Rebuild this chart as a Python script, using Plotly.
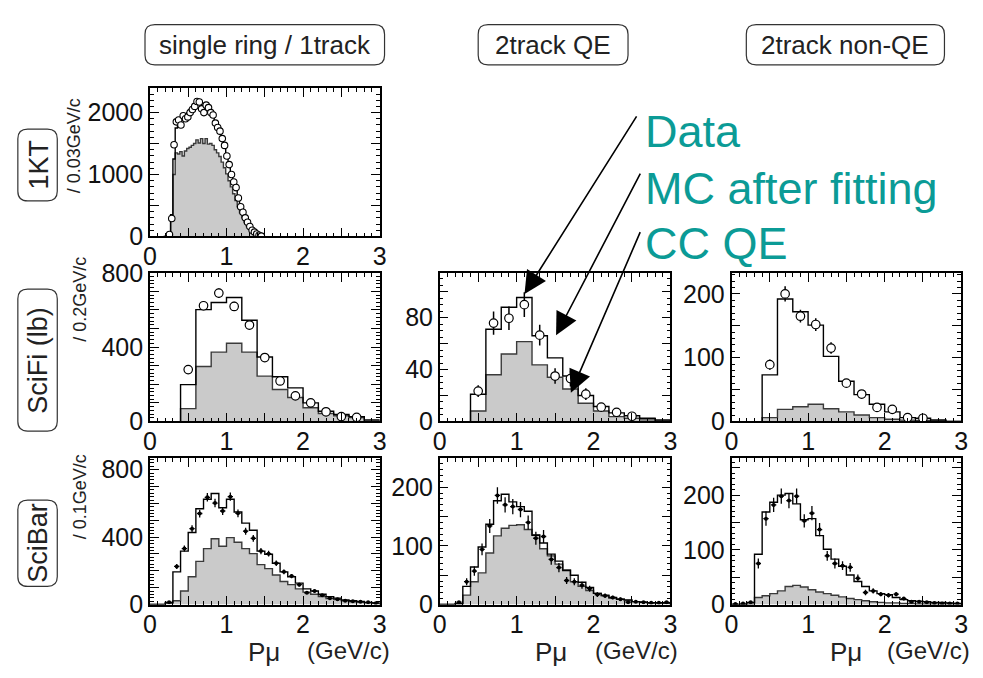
import numpy as np
import plotly.graph_objects as go

W, H = 983, 678
FONT = "Liberation Sans, Arial, Helvetica, sans-serif"
TEAL = "#0b9b96"

# ---------------- data ----------------
# 1KT, single ring (bin width 0.03 GeV/c)
kt_lo, kt_w = 0.18, 0.03
kt_mc = [0, 5, 30, 350, 1250, 1750, 1850, 1880, 1920, 1960, 2000, 2050, 2080, 2120, 2150,
         2140, 2120, 2110, 2080, 2050, 2010, 1950, 1870, 1780, 1680, 1560, 1430, 1300, 1160,
         1020, 880, 740, 610, 490, 380, 290, 210, 145, 95, 55, 30, 12, 5, 0]
kt_qe = [0, 3, 20, 250, 1000, 1350, 1330, 1370, 1300, 1380, 1420, 1440, 1470, 1500, 1560,
         1510, 1580, 1500, 1580, 1490, 1500, 1470, 1400, 1350, 1290, 1200, 1110, 1010, 900,
         800, 690, 580, 480, 380, 300, 225, 160, 110, 70, 40, 20, 8, 3, 0]
kt_data_x = [0.255, 0.285, 0.315, 0.345, 0.375, 0.405, 0.435, 0.465, 0.495, 0.525, 0.555,
             0.585, 0.615, 0.645, 0.675, 0.705, 0.735, 0.765, 0.795, 0.825, 0.855, 0.885,
             0.915, 0.945, 0.975, 1.005, 1.035, 1.065, 1.095, 1.125, 1.155, 1.185, 1.215,
             1.245, 1.275, 1.305, 1.335, 1.365, 1.395, 1.425, 1.455]
kt_data = [30, 290, 1480, 1850, 1880, 1800, 1950, 1900, 1930, 2000, 2050, 2100, 2180, 2170,
           2060, 2000, 2120, 2080, 2000, 1960, 1830, 1760, 1700, 1580, 1470, 1300, 1160, 1000,
           880, 790, 620, 480, 390, 300, 230, 160, 100, 70, 40, 20, 5]

# SciFi (bin width 0.2 GeV/c, starting at 0.4)
sf_lo, sf_w = 0.4, 0.2
sf_data_x = [0.5, 0.7, 0.9, 1.1, 1.3, 1.5, 1.7, 1.9, 2.1, 2.3, 2.5, 2.7]
sf1_mc = [198, 602, 640, 667, 545, 347, 241, 181, 100, 55, 38, 26, 8]
sf1_qe = [69, 296, 373, 421, 373, 244, 172, 129, 74, 43, 31, 21, 0]
sf1_data = [279, 623, 691, 619, 519, 344, 218, 138, 100, 52, 26, 22]
sf1_err = [17, 25, 26, 25, 23, 19, 15, 12, 10, 7, 5, 5]

sf2_mc = [21, 71, 88, 95.5, 66, 49, 35, 20, 11.5, 6.6, 4.4, 2.5, 1.2]
sf2_qe = [8, 36, 52, 61.5, 43.6, 34, 25, 14, 8, 3.7, 2.5, 1.2, 0.5]
sf2_data = [23.4, 75.8, 79.5, 90, 66.5, 35, 33, 21, 11, 7, 4]
sf2_err = [4.5, 9, 9, 9.5, 8, 6, 6, 4.5, 3, 2.5, 2]

sf3_mc = [73, 192, 172, 151, 102, 63, 42, 27, 15, 6, 5, 2.5, 0]
sf3_qe = [6, 19, 23, 27, 20, 15, 10, 6, 3.5, 2, 1.5, 1, 0]
sf3_data = [89, 200, 165, 152, 115, 60, 43, 22, 19, 6, 5]
sf3_err = [8, 12, 10, 10, 9, 6, 5, 4, 3, 2, 2]

# SciBar (bin width 0.1 GeV/c, starting at 0.0)
sb_lo, sb_w = 0.0, 0.1
sb1_mc = [0, 0, 13, 194, 317, 427, 568, 625, 659, 574, 625, 549, 483, 441, 317, 298, 245,
          194, 165, 127, 93, 80, 61, 47, 38, 28, 23, 19, 13, 10]
sb1_qe = [0, 0, 8, 23, 80, 165, 256, 332, 390, 346, 397, 370, 332, 302, 237, 213, 175, 137,
          118, 93, 74, 61, 47, 36, 30, 23, 17, 13, 10, 8]
sb1_data_x = [0.25, 0.35, 0.45, 0.55, 0.65, 0.75, 0.85, 0.95, 1.05, 1.15, 1.25, 1.35, 1.45,
              1.55, 1.65, 1.75, 1.85, 1.95, 2.05, 2.15, 2.25, 2.35, 2.45, 2.55, 2.65, 2.75,
              2.85, 2.95]
sb1_data = [13, 226, 332, 450, 540, 636, 602, 555, 640, 541, 435, 393, 317, 302, 245, 194,
            169, 118, 70, 80, 55, 38, 32, 23, 19, 17, 13, 8]
sb1_err = [4, 15, 18, 21, 23, 25, 25, 24, 25, 23, 21, 20, 18, 17, 16, 14, 13, 11, 8, 9, 7,
           6, 6, 5, 4, 4, 4, 3]

sb2_mc = [0, 0, 2, 31, 64, 98, 137, 177, 188, 175, 167, 159, 118, 105, 86, 74, 58, 50, 38,
          29, 19, 16, 12, 9, 8, 5, 4, 3, 3, 3]
sb2_qe = [0, 0, 1, 16, 39, 54, 88, 117, 130, 135, 136, 128, 119, 95, 83, 69, 59, 39, 31, 24,
          19, 15, 11, 9, 7, 5, 4, 3, 3, 2]
sb2_data = [4, 39, 57, 94, 134, 186, 170, 167, 162, 140, 113, 116, 77, 63, 41, 39, 33, 27,
            17, 15, 12, 9, 4, 5, 4, 3, 3, 4]
sb2_err = [2, 6, 8, 10, 12, 14, 13, 13, 13, 12, 11, 11, 9, 8, 6, 6, 6, 5, 4, 4, 3, 3, 2, 2,
           2, 2, 2, 2]

sb3_mc = [0, 0, 4, 92, 169, 187, 200, 203, 184, 155, 157, 126, 101, 83, 70, 54, 42, 33, 25,
          20, 18, 13, 9, 7, 6, 5, 4, 4, 3, 2]
sb3_qe = [0, 0, 1, 13, 16, 20, 25, 33, 35, 32, 27, 23, 20, 17, 14, 11, 9, 7, 5, 4, 3, 3, 2,
          2, 1, 1, 1, 1, 1, 1]
sb3_data_x = [0.05, 0.15, 0.25, 0.35, 0.45, 0.55, 0.65, 0.75, 0.85, 0.95, 1.05, 1.15, 1.25,
              1.35, 1.45, 1.55, 1.65, 1.75, 1.85, 1.95, 2.05, 2.15, 2.25, 2.35, 2.45, 2.55,
              2.65, 2.75, 2.85, 2.95]
sb3_data = [1, 2, 4, 75, 157, 182, 198, 190, 198, 153, 167, 137, 89, 75, 71, 68, 48, 22, 25,
            19, 17, 19, 11, 5, 5, 4, 3, 2, 2, 2]
sb3_err = [1, 1, 2, 9, 13, 13, 14, 14, 14, 12, 13, 12, 9, 9, 8, 8, 7, 5, 5, 4, 4, 4, 3, 2, 2,
           2, 2, 1, 1, 1]

col_titles = ["single ring / 1track", "2track QE", "2track non-QE"]
row_titles = ["1KT", "SciFi (lb)", "SciBar"]
y_units = ["/ 0.03GeV/c", "/ 0.2GeV/c", "/ 0.1GeV/c"]
legend_texts = ["Data", "MC after fitting", "CC QE"]

# ---------------- layout helpers ----------------
def fx(x):
    return x / W


def fy(y):
    return 1 - y / H


COLX = [(145, 378), (439, 673), (735, 968)]
ROWY = [(77, 232), (270, 425), (463, 616)]
TICKFONT = 25

# panel: (col, row, lo, w, mc, qe, data_x, data, err, style, ymax, ylabels, ymajor, yminor)
panels = [
    (0, 0, kt_lo, kt_w, kt_mc, kt_qe, kt_data_x, kt_data, None, "open_small", 2400,
     [0, 1000, 2000], 500, 100),
    (0, 1, sf_lo, sf_w, sf1_mc, sf1_qe, sf_data_x, sf1_data, sf1_err, "open", 800,
     [0, 400, 800], 100, 20),
    (1, 1, sf_lo, sf_w, sf2_mc, sf2_qe, sf_data_x[:11], sf2_data, sf2_err, "open", 114.5,
     [0, 40, 80], 20, 5),
    (2, 1, sf_lo, sf_w, sf3_mc, sf3_qe, sf_data_x[:11], sf3_data, sf3_err, "open", 233,
     [0, 100, 200], 50, 10),
    (0, 2, sb_lo, sb_w, sb1_mc, sb1_qe, sb1_data_x, sb1_data, sb1_err, "dot", 870,
     [0, 400, 800], 100, 20),
    (1, 2, sb_lo, sb_w, sb2_mc, sb2_qe, sb1_data_x, sb2_data, sb2_err, "dot", 250,
     [0, 100, 200], 50, 10),
    (2, 2, sb_lo, sb_w, sb3_mc, sb3_qe, sb3_data_x, sb3_data, sb3_err, "dot", 268,
     [0, 100, 200], 50, 10),
]


def step_xy(lo, w, vals):
    n = len(vals)
    edges = lo + w * np.arange(n + 1)
    xs = [edges[0]] + list(edges[:-1]) + [edges[-1], edges[-1]]
    ys = [0] + list(vals) + [vals[-1], 0]
    return xs, ys


fig = go.Figure()
layout = dict(width=W, height=H, margin=dict(l=0, r=0, t=0, b=0), autosize=False,
              paper_bgcolor="white", plot_bgcolor="white", showlegend=False,
              font=dict(family=FONT, color="black"))

for i, (c, r, lo, w, mc, qe, dx, dv, de, style, ymax, ylab, ymaj, ymin) in enumerate(panels, 1):
    xa = f"x{i}" if i > 1 else "x"
    ya = f"y{i}" if i > 1 else "y"
    sx, sy = step_xy(lo, w, qe)
    fig.add_trace(go.Scatter(x=sx, y=sy, mode="lines", line=dict(shape="hv", color="#3a3a3a", width=1.4),
                             fill="tozeroy", fillcolor="#cacaca", xaxis=xa, yaxis=ya, hoverinfo="skip"))
    sx, sy = step_xy(lo, w, mc)
    fig.add_trace(go.Scatter(x=sx, y=sy, mode="lines", line=dict(shape="hv", color="black", width=1.4),
                             xaxis=xa, yaxis=ya, hoverinfo="skip"))
    if style == "open_small":
        fig.add_trace(go.Scatter(x=dx, y=dv, mode="markers",
                                 marker=dict(symbol="circle", size=6.5, color="white",
                                             line=dict(color="black", width=1.1)),
                                 xaxis=xa, yaxis=ya))
    elif style == "open":
        fig.add_trace(go.Scatter(x=dx, y=dv, mode="markers",
                                 marker=dict(symbol="circle", size=8.5, color="white",
                                             line=dict(color="black", width=1.2)),
                                 error_y=dict(type="data", array=de, color="black", thickness=1.5, width=0),
                                 xaxis=xa, yaxis=ya))
    else:
        fig.add_trace(go.Scatter(x=dx, y=dv, mode="markers",
                                 marker=dict(symbol="circle", size=4, color="black"),
                                 error_y=dict(type="data", array=de, color="black", thickness=1.3, width=0),
                                 error_x=dict(type="constant", value=0.035, color="black", thickness=1.3, width=0),
                                 xaxis=xa, yaxis=ya))

    x0, x1 = COLX[c]
    y0, y1 = ROWY[r]
    yt = list(np.arange(0, ymax + 1e-9, ymaj))
    ytext = [(f"{int(v)}" if any(abs(v - l) < 1e-9 for l in ylab) else "") for v in yt]
    layout["xaxis" + (str(i) if i > 1 else "")] = dict(
        domain=[fx(x0), fx(x1)], anchor=ya, range=[0, 3], showgrid=False, zeroline=False,
        showline=True, linecolor="black", linewidth=1.5, mirror="allticks",
        ticks="inside", ticklen=9, tickwidth=1, tickcolor="black",
        tickvals=[0, 0.5, 1, 1.5, 2, 2.5, 3], ticktext=["0", "", "1", "", "2", "", "3"],
        ticklabelstandoff=-3,
        minor=dict(ticks="inside", ticklen=4, dtick=0.1, tick0=0, tickcolor="black"),
        tickfont=dict(size=TICKFONT, family=FONT, color="#111"), fixedrange=True)
    layout["yaxis" + (str(i) if i > 1 else "")] = dict(
        domain=[fy(y1), fy(y0)], anchor=xa, range=[0, ymax], showgrid=False, zeroline=False,
        showline=True, linecolor="black", linewidth=1.5, mirror="allticks",
        ticks="inside", ticklen=9, tickwidth=1, tickcolor="black",
        tickvals=yt, ticktext=ytext,
        minor=dict(ticks="inside", ticklen=4, dtick=ymin, tick0=0, tickcolor="black"),
        tickfont=dict(size=TICKFONT, family=FONT, color="#111"), fixedrange=True)

fig.update_layout(**layout)


def rounded_box(xa, ya, xb, yb, rad=9):
    def P(x, y):
        return f"{fx(x):.5f},{fy(y):.5f}"
    return ("M " + P(xa + rad, ya) + " L " + P(xb - rad, ya) + " Q " + P(xb, ya) + " " + P(xb, ya + rad)
            + " L " + P(xb, yb - rad) + " Q " + P(xb, yb) + " " + P(xb - rad, yb)
            + " L " + P(xa + rad, yb) + " Q " + P(xa, yb) + " " + P(xa, yb - rad)
            + " L " + P(xa, ya + rad) + " Q " + P(xa, ya) + " " + P(xa + rad, ya) + " Z")


shapes = []
annotations = []

# column headers
head_boxes = [(140, 383), (478, 630), (750, 951)]
for (a, b), t in zip(head_boxes, col_titles):
    shapes.append(dict(type="path", xref="paper", yref="paper", path=rounded_box(a, 11, b, 53, 10),
                       line=dict(color="#333", width=1.2)))
    annotations.append(dict(xref="paper", yref="paper", x=fx((a + b) / 2), y=fy(32), text=t,
                            showarrow=False, xanchor="center", yanchor="middle",
                            font=dict(size=26, family=FONT, color="#222")))

# row titles
row_boxes = [(120, 195), (287, 435), (507, 597)]
for (a, b), t in zip(row_boxes, row_titles):
    shapes.append(dict(type="path", xref="paper", yref="paper", path=rounded_box(11, a, 51, b, 10),
                       line=dict(color="#333", width=1.2)))
    annotations.append(dict(xref="paper", yref="paper", x=fx(32), y=fy((a + b) / 2), text=t,
                            showarrow=False, textangle=-90, xanchor="center", yanchor="middle",
                            font=dict(size=27, family=FONT, color="#222")))

# y-unit labels
unit_pos = [(68, 138), (74, 297), (74, 503)]
for (x, y), t in zip(unit_pos, y_units):
    annotations.append(dict(xref="paper", yref="paper", x=fx(x), y=fy(y), text=t,
                            showarrow=False, textangle=-90, xanchor="center", yanchor="middle",
                            font=dict(size=18, family=FONT, color="#222")))

# x-axis labels
for pm, gv in [(261, 346), (552, 639), (851, 935)]:
    annotations.append(dict(xref="paper", yref="paper", x=fx(pm), y=fy(666), text="Pμ",
                            showarrow=False, xanchor="center", yanchor="middle",
                            font=dict(size=26, family=FONT, color="#222")))
    annotations.append(dict(xref="paper", yref="paper", x=fx(gv), y=fy(664), text="(GeV/c)",
                            showarrow=False, xanchor="center", yanchor="middle",
                            font=dict(size=24, family=FONT, color="#222")))

# legend texts
for t, yc in zip(legend_texts, [123, 182, 239]):
    annotations.append(dict(xref="paper", yref="paper", x=fx(645), y=fy(yc), text=t,
                            showarrow=False, xanchor="left", yanchor="middle",
                            font=dict(size=45, family=FONT, color=TEAL)))

# arrows (tail offset given in pixels relative to head)
for (tx, ty), (hx, hy) in [((638, 113), (525, 292)), ((642, 172), (557, 335)), ((642, 233), (572, 395))]:
    annotations.append(dict(xref="paper", yref="paper", x=fx(hx), y=fy(hy),
                            axref="pixel", ayref="pixel", ax=tx - hx, ay=ty - hy, text="",
                            showarrow=True, arrowhead=2, arrowsize=2.8, arrowwidth=1.6,
                            arrowcolor="black", standoff=0, startstandoff=0))

fig.update_layout(shapes=shapes, annotations=annotations)
fig.write_html("out.html")
